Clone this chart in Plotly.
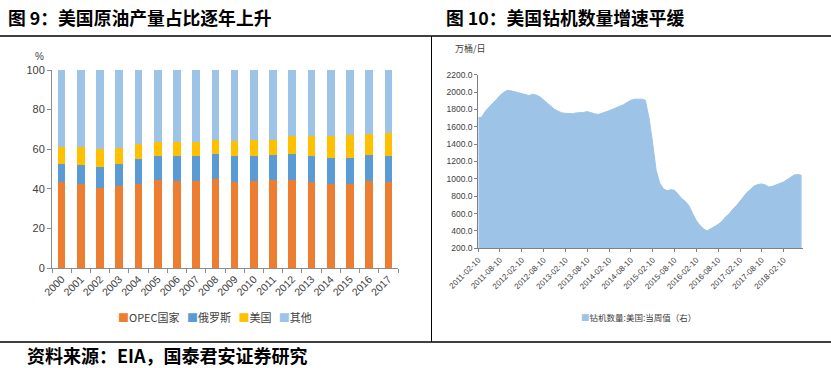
import plotly.graph_objects as go

# ---------------- data: figure 9 ----------------
years = [str(y) for y in range(2000, 2018)]
opec = [43.4, 42.3, 40.4, 41.4, 42.6, 44.3, 43.9, 43.7, 45.1, 43.4, 43.9, 44.3, 44.6, 43.3, 42.3, 42.4, 43.9, 43.4]
russia = [8.9, 9.7, 10.6, 11.3, 12.4, 12.1, 12.5, 13.0, 12.6, 13.1, 12.6, 12.6, 13.1, 13.1, 13.2, 13.1, 13.0, 13.3]
usa = [8.7, 9.0, 8.9, 8.0, 7.4, 7.2, 7.2, 7.0, 7.0, 7.4, 7.9, 7.8, 8.9, 10.2, 11.1, 11.8, 11.0, 11.6]
other = [round(100 - a - b - c, 1) for a, b, c in zip(opec, russia, usa)]
series_names = ["OPEC国家", "俄罗斯", "美国", "其他"]

# ---------------- data: figure 10 ----------------
rig_months = [
    "2011-02", "2011-03", "2011-04", "2011-05", "2011-06", "2011-07", "2011-08", "2011-09", "2011-10", "2011-11", "2011-12",
    "2012-01", "2012-02", "2012-03", "2012-04", "2012-05", "2012-06", "2012-07", "2012-08", "2012-09", "2012-10", "2012-11", "2012-12",
    "2013-01", "2013-02", "2013-03", "2013-04", "2013-05", "2013-06", "2013-07", "2013-08", "2013-09", "2013-10", "2013-11", "2013-12",
    "2014-01", "2014-02", "2014-03", "2014-04", "2014-05", "2014-06", "2014-07", "2014-08", "2014-09", "2014-10", "2014-11", "2014-12",
    "2015-01", "2015-02", "2015-03", "2015-04", "2015-05", "2015-06", "2015-07", "2015-08", "2015-09", "2015-10", "2015-11", "2015-12",
    "2016-01", "2016-02", "2016-03", "2016-04", "2016-05", "2016-06", "2016-07", "2016-08", "2016-09", "2016-10", "2016-11", "2016-12",
    "2017-01", "2017-02", "2017-03", "2017-04", "2017-05", "2017-06", "2017-07", "2017-08", "2017-09", "2017-10", "2017-11", "2017-12",
    "2018-01", "2018-02", "2018-03", "2018-04", "2018-05", "2018-06", "2018-07",
]
rig_values = [
    1704, 1710, 1780, 1830, 1870, 1910, 1960, 1995, 2020, 2015, 2005,
    1995, 1985, 1970, 1960, 1975, 1965, 1945, 1910, 1870, 1830, 1800, 1780,
    1760, 1755, 1755, 1750, 1760, 1762, 1765, 1775, 1760, 1750, 1742, 1760,
    1770, 1785, 1800, 1815, 1835, 1855, 1880, 1905, 1918, 1922, 1918, 1905,
    1700, 1400, 1100, 950, 885, 862, 875, 870, 820, 775, 740, 690,
    600, 520, 465, 425, 400, 425, 450, 475, 510, 560, 595, 650,
    690, 740, 795, 845, 880, 920, 935, 942, 930, 905, 915, 930,
    945, 965, 990, 1015, 1045, 1050, 1040,
]
rig_dates = [m + "-10" for m in rig_months]
rig_ticks = ["2011-02-10", "2011-08-10", "2012-02-10", "2012-08-10", "2013-02-10", "2013-08-10",
             "2014-02-10", "2014-08-10", "2015-02-10", "2015-08-10", "2016-02-10", "2016-08-10",
             "2017-02-10", "2017-08-10", "2018-02-10"]
rig_name = "钻机数量:美国:当周值（右）"

W, H = 831, 368
def px(x):
    return x / W
def py(y):
    return 1 - y / H

colors = ["#ED7D31", "#5B9BD5", "#FFC000", "#9DC3E6"]
rig_color = "#9DC3E6"
axis_col = "#8C8C8C"
txt_col = "#404040"
sans = "Liberation Sans Narrow, Liberation Sans, sans-serif"
cjk = "Noto Sans CJK SC, sans-serif"

fig = go.Figure()
for name, vals, col in zip(series_names, [opec, russia, usa, other], colors):
    fig.add_trace(go.Bar(x=years, y=vals, name=name, marker=dict(color=col, line=dict(width=0)),
                         xaxis="x", yaxis="y", showlegend=False))

fig.add_trace(go.Scatter(x=rig_dates, y=rig_values, name=rig_name, mode="lines",
                         line=dict(color=rig_color, width=1), fill="tozeroy", fillcolor=rig_color,
                         xaxis="x2", yaxis="y2", showlegend=False))

fig.update_layout(
    width=W, height=H,
    margin=dict(l=0, r=0, t=0, b=0, autoexpand=False),
    paper_bgcolor="white", plot_bgcolor="white",
    barmode="stack", bargap=0.6,
    font=dict(family=sans, color=txt_col, size=10),
    xaxis=dict(domain=[px(52), px(398)], anchor="y", type="category", automargin=False,
               showline=True, linecolor=axis_col, linewidth=1,
               ticks="outside", ticklen=4, tickcolor=axis_col, tickson="boundaries",
               tickangle=-45, tickfont=dict(size=10.5, color=txt_col), showgrid=False),
    yaxis=dict(domain=[py(268), py(70)], anchor="x", range=[0, 100], dtick=20, automargin=False,
               showline=True, linecolor=axis_col, linewidth=1,
               ticks="outside", ticklen=4, tickcolor=axis_col,
               tickfont=dict(size=11, color=txt_col), showgrid=False, zeroline=False),
    xaxis2=dict(domain=[px(478.3), px(803)], anchor="y2", type="date", automargin=False,
                range=["2011-02-10", "2018-07-22"],
                tickmode="array", tickvals=rig_ticks, ticktext=rig_ticks,
                showline=True, linecolor="#7F7F7F", linewidth=1,
                ticks="outside", ticklen=3, tickcolor="#7F7F7F",
                tickangle=-45, tickfont=dict(size=8, color=txt_col), showgrid=False),
    yaxis2=dict(domain=[py(248.3), py(74.7)], anchor="x2", range=[200, 2200], dtick=200,
                tickformat=".1f", automargin=False,
                showline=True, linecolor="#7F7F7F", linewidth=1,
                ticks="outside", ticklen=3, tickcolor="#7F7F7F",
                tickfont=dict(size=8.5, color=txt_col), showgrid=False, zeroline=False),
    showlegend=False,
)

# legends drawn as text keys
left_key = "&nbsp;&nbsp;&nbsp;".join(
    f"<span style='color:{c}'>■</span>{n}" for n, c in zip(series_names, colors))
fig.add_annotation(text=left_key, xref="paper", yref="paper", x=px(215), y=py(317),
                   xanchor="center", yanchor="middle", showarrow=False,
                   font=dict(size=11, color=txt_col, family=cjk))
fig.add_annotation(text=f"<span style='color:{rig_color}'>■</span>{rig_name}", xref="paper", yref="paper",
                   x=px(638), y=py(317), xanchor="center", yanchor="middle", showarrow=False,
                   font=dict(size=8.5, color=txt_col, family=cjk))

# frame lines
line_style = dict(color="black", width=1.5)
fig.add_shape(type="line", xref="paper", yref="paper", x0=0, x1=1, y0=py(36), y1=py(36), line=line_style)
fig.add_shape(type="line", xref="paper", yref="paper", x0=0, x1=1, y0=py(342), y1=py(342), line=line_style)
fig.add_shape(type="line", xref="paper", yref="paper", x0=px(431.5), x1=px(431.5), y0=py(36), y1=py(342),
              line=dict(color="black", width=1))

title_font = dict(family=cjk, size=17.8, color="black")
fig.add_annotation(text="<b>图 9：美国原油产量占比逐年上升</b>", xref="paper", yref="paper",
                   x=px(6), y=py(17), xanchor="left", yanchor="middle", showarrow=False, font=title_font)
fig.add_annotation(text="<b>图 10：美国钻机数量增速平缓</b>", xref="paper", yref="paper",
                   x=px(444), y=py(17), xanchor="left", yanchor="middle", showarrow=False, font=title_font)
fig.add_annotation(text="<b>资料来源：EIA，国泰君安证券研究</b>", xref="paper", yref="paper",
                   x=px(25), y=py(355), xanchor="left", yanchor="middle", showarrow=False,
                   font=dict(family=cjk, size=18, color="black"))
fig.add_annotation(text="%", xref="paper", yref="paper", x=px(39), y=py(57), xanchor="center",
                   yanchor="middle", showarrow=False, font=dict(size=10, color=txt_col))
fig.add_annotation(text="万桶/日", xref="paper", yref="paper", x=px(470), y=py(48), xanchor="center",
                   yanchor="middle", showarrow=False,
                   font=dict(size=9, color=txt_col, family=cjk))

fig.write_html(
    "out.html",
    config={"displayModeBar": False},
    post_script="document.body.style.margin='0px';document.body.style.padding='0px';"
                "document.documentElement.style.overflow='hidden';",
)
